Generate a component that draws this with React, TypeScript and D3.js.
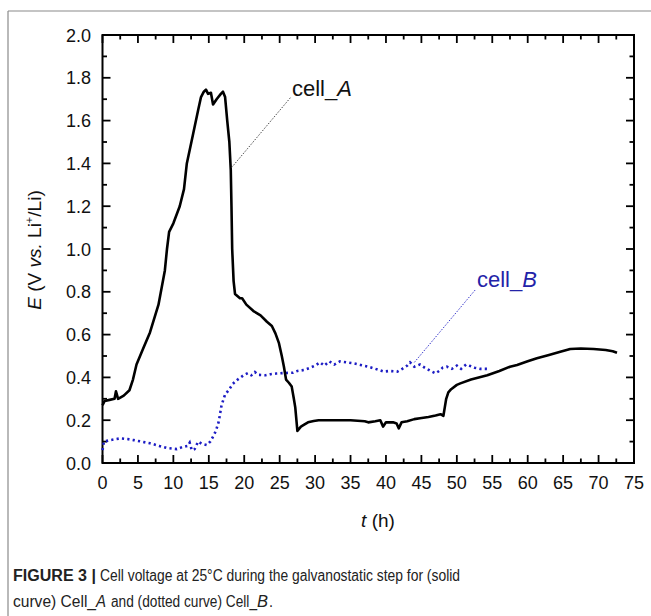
import React from "react";
import * as d3 from "d3";

const cellA_t = [0,0.3,1.0,1.7,1.9,2.2,3.0,3.8,4.3,4.8,5.8,6.7,7.9,8.8,9.1,9.4,10.0,10.9,11.5,11.9,12.8,13.5,13.9,14.3,14.6,14.9,15.3,15.6,16.1,16.7,17.0,17.3,17.6,17.9,18.1,18.2,18.3,18.5,18.7,19.4,19.7,20.3,21.3,22.3,23.2,23.9,24.4,24.9,25.3,25.6,25.9,26.3,26.7,27.0,27.2,27.5,28.0,28.4,29.0,29.8,30.5,32,35,37.0,37.5,38.5,39.2,39.6,40.0,41.0,41.5,41.8,42.2,43.0,44.0,44.8,46.0,47.0,47.7,48.1,48.3,48.5,48.8,49.2,50.0,50.5,52.0,54.3,56.0,57.5,58.5,60.0,61.3,63.0,64.6,66.0,67.5,69.3,71.0,72.0,72.6];
const cellA_E = [0.27,0.29,0.295,0.30,0.335,0.30,0.315,0.34,0.39,0.46,0.54,0.61,0.74,0.90,1.00,1.08,1.12,1.20,1.28,1.40,1.54,1.65,1.71,1.735,1.745,1.725,1.73,1.675,1.70,1.725,1.735,1.71,1.60,1.50,1.37,1.20,1.00,0.85,0.79,0.77,0.77,0.74,0.71,0.69,0.66,0.64,0.606,0.56,0.50,0.45,0.39,0.375,0.357,0.30,0.26,0.15,0.17,0.178,0.19,0.196,0.20,0.20,0.20,0.195,0.19,0.195,0.20,0.17,0.19,0.19,0.185,0.162,0.19,0.195,0.205,0.209,0.215,0.222,0.228,0.22,0.26,0.30,0.33,0.345,0.365,0.372,0.39,0.41,0.43,0.45,0.458,0.475,0.489,0.505,0.52,0.533,0.535,0.533,0.528,0.522,0.515];

const cellB_t = [0,0.2,1.1,2.5,3.5,4.4,5.5,6.7,8.0,9.1,10.5,11.3,12.0,12.3,12.6,13.0,13.5,14.0,14.7,15.2,15.6,16.0,16.4,16.8,17.3,17.8,18.4,19.0,19.9,20.5,21.0,21.5,22.0,23.0,23.7,24.5,25.5,26.9,27.5,28.5,29.3,30.0,30.7,31.3,32.0,32.7,33.5,34.5,35.5,36.4,37.5,38.5,39.7,40.5,41.6,42.3,43.0,43.4,44.0,44.8,45.5,46.3,47.0,47.5,48.0,48.6,49.3,50.0,50.6,51.3,51.9,52.5,53.3,54.0,54.7];
const cellB_E = [0.06,0.10,0.107,0.115,0.112,0.107,0.10,0.092,0.08,0.07,0.065,0.075,0.08,0.095,0.06,0.065,0.10,0.09,0.084,0.10,0.123,0.15,0.193,0.27,0.32,0.34,0.37,0.388,0.41,0.42,0.41,0.425,0.412,0.41,0.415,0.418,0.42,0.422,0.43,0.435,0.445,0.455,0.47,0.455,0.475,0.46,0.475,0.47,0.465,0.458,0.45,0.44,0.427,0.43,0.427,0.44,0.455,0.47,0.45,0.46,0.445,0.43,0.419,0.43,0.445,0.45,0.44,0.455,0.44,0.46,0.453,0.445,0.44,0.44,0.439];

const xMajorTicks = [0,5,10,15,20,25,30,35,40,45,50,55,60,65,70,75];
const xMinorTicks = [2.5,7.5,12.5,17.5,22.5,27.5,32.5,37.5,42.5,47.5,52.5,57.5,62.5,67.5,72.5];
const yMajorTicks = [0,0.2,0.4,0.6,0.8,1.0,1.2,1.4,1.6,1.8,2.0];
const yMinorTicks = [0.1,0.3,0.5,0.7,0.9,1.1,1.3,1.5,1.7,1.9];

const labelA = { t: 18.2, E: 1.38 };
const labelB = { t: 44.0, E: 0.47 };

const FONT = "'Liberation Sans', Arial, Helvetica, sans-serif";

// caption fragments: [text, x start, width, bold, italic, line]
const captionParts: [string, number, number, boolean, boolean, number][] = [
  ["FIGURE 3 |", 13, 83, true, false, 0],
  ["Cell voltage at 25°C during the galvanostatic step for (solid", 100, 360, false, false, 0],
  ["curve) Cell_", 13, 83, false, false, 1],
  ["A", 96, 10, false, true, 1],
  ["and (dotted curve) Cell_", 111, 146, false, false, 1],
  ["B", 257, 11, false, true, 1],
  [".", 269, 4, false, false, 1],
];

export default function App() {
  const left = 102.5, right = 634, top = 35, bottom = 463;
  const x = d3.scaleLinear().domain([0, 75]).range([left, right]);
  const y = d3.scaleLinear().domain([0, 2]).range([bottom, top]);

  const lineGen = d3.line<[number, number]>().x(d => x(d[0])).y(d => y(d[1])).curve(d3.curveLinear);
  const dataA = cellA_t.map((t, i) => [t, cellA_E[i]] as [number, number]);
  const dataB = cellB_t.map((t, i) => [t, cellB_E[i]] as [number, number]);

  const majorLen = 8, minorLen = 4.5;
  const blue = "#1c1cc4";

  return (
    <svg width={651} height={616} style={{ position: "absolute", left: 0, top: 0, background: "#fff" }} fontFamily={FONT}>
      <rect x={0} y={0} width={651} height={616} fill="#fff" />
      {/* panel frame */}
      <line x1={8} y1={11} x2={651} y2={11} stroke="#8a8a8a" strokeWidth={1.2} />
      <line x1={8} y1={11} x2={8} y2={616} stroke="#8a8a8a" strokeWidth={1.2} />

      {/* ticks */}
      <g stroke="#000" strokeWidth={1.8}>
        {xMajorTicks.map(t => (
          <g key={"xM" + t}>
            <line x1={x(t)} x2={x(t)} y1={bottom} y2={bottom - majorLen} />
            <line x1={x(t)} x2={x(t)} y1={top} y2={top + majorLen} />
          </g>
        ))}
        {xMinorTicks.map(t => (
          <g key={"xm" + t}>
            <line x1={x(t)} x2={x(t)} y1={bottom} y2={bottom - minorLen} />
            <line x1={x(t)} x2={x(t)} y1={top} y2={top + minorLen} />
          </g>
        ))}
        {yMajorTicks.map(v => (
          <g key={"yM" + v}>
            <line x1={left} x2={left + majorLen} y1={y(v)} y2={y(v)} />
            <line x1={right} x2={right - majorLen} y1={y(v)} y2={y(v)} />
          </g>
        ))}
        {yMinorTicks.map(v => (
          <g key={"ym" + v}>
            <line x1={left} x2={left + minorLen} y1={y(v)} y2={y(v)} />
            <line x1={right} x2={right - minorLen} y1={y(v)} y2={y(v)} />
          </g>
        ))}
      </g>
      <rect x={left} y={top} width={right - left} height={bottom - top} fill="none" stroke="#000" strokeWidth={2} />

      {/* tick labels */}
      <g fontSize={18} fill="#111">
        {xMajorTicks.map(t => (
          <text key={"xl" + t} x={x(t)} y={489} textAnchor="middle">{t}</text>
        ))}
        {yMajorTicks.map(v => (
          <text key={"yl" + v} x={91} y={y(v) + 6.5} textAnchor="end">{v.toFixed(1)}</text>
        ))}
      </g>

      {/* axis titles */}
      <text x={378} y={527} fontSize={19} textAnchor="middle" fill="#111">
        <tspan fontStyle="italic">t</tspan> (h)
      </text>
      <text transform="translate(41,250) rotate(-90)" fontSize={19} textAnchor="middle" fill="#111">
        <tspan fontStyle="italic">E</tspan> (V <tspan fontStyle="italic">vs.</tspan> Li<tspan fontSize={11} dy={-8}>+</tspan><tspan dy={8}>/Li)</tspan>
      </text>

      {/* curves */}
      <path d={lineGen(dataB) || ""} fill="none" stroke={blue} strokeWidth={2.6} strokeDasharray="2.2 3.2" />
      <path d={lineGen(dataA) || ""} fill="none" stroke="#000" strokeWidth={2.6} strokeLinejoin="round" />

      {/* annotations */}
      <line x1={x(labelA.t)} y1={y(labelA.E)} x2={291} y2={97} stroke="#333" strokeWidth={0.9} strokeDasharray="1.5 1.5" />
      <text x={292} y={96} fontSize={22} fill="#111">cell_<tspan fontStyle="italic">A</tspan></text>
      <line x1={x(labelB.t)} y1={y(labelB.E)} x2={476} y2={289} stroke={blue} strokeWidth={0.9} strokeDasharray="1.5 1.5" />
      <text x={477} y={287} fontSize={22} fill="#2323a8">cell_<tspan fontStyle="italic">B</tspan></text>

      {/* caption */}
      {captionParts.map(([s, cx, w, b, it, line], i) => (
        <text key={"cap" + i} x={cx} y={581 + line * 26} fontSize={16} fill="#222"
          fontWeight={b ? "bold" : "normal"} fontStyle={it ? "italic" : "normal"}
          textLength={w} lengthAdjust="spacingAndGlyphs">{s}</text>
      ))}
    </svg>
  );
}
